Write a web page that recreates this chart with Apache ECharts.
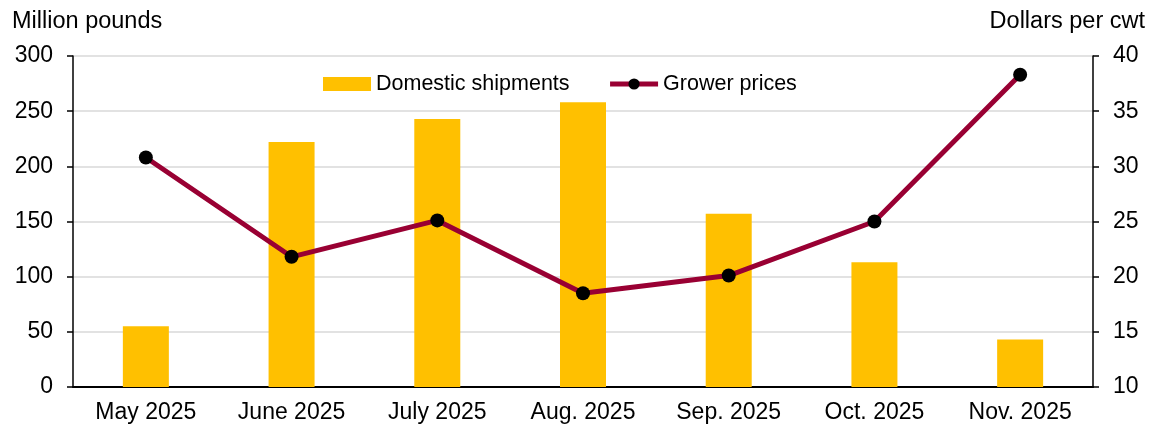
<!DOCTYPE html>
<html>
<head>
<meta charset="utf-8">
<title>Domestic shipments and grower prices</title>
<script src="https://cdn.jsdelivr.net/npm/echarts@6/dist/echarts.min.js"></script>
<style>
  html, body { margin: 0; padding: 0; background: #ffffff; }
  #chart { width: 1150px; height: 428px; }
</style>
</head>
<body>
<div id="chart"></div>
<script>
// Monthly categories
const months = ['May 2025', 'June 2025', 'July 2025', 'Aug. 2025', 'Sep. 2025', 'Oct. 2025', 'Nov. 2025'];
// Domestic shipments, million pounds (left axis)
const shipments = [55, 222, 243, 258, 157, 113, 43];
// Grower prices, dollars per cwt (right axis)
const growerPrices = [30.8, 21.8, 25.1, 18.5, 20.1, 25.0, 38.3];
// Axis titles
const leftTitle = 'Million pounds';
const rightTitle = 'Dollars per cwt';

const FONT = '"Liberation Sans", Arial, sans-serif';
const chart = echarts.init(document.getElementById('chart'), null, { renderer: 'canvas' });

const valueAxisBase = {
  type: 'value',
  axisLine: { show: true, lineStyle: { color: '#000', width: 1.5 } },
  axisTick: { show: true, inside: false, length: 6, lineStyle: { color: '#000', width: 1.5 } },
  axisLabel: { color: '#000', fontFamily: FONT, fontSize: 23, margin: 20 },
  splitLine: { show: false }
};

chart.setOption({
  animation: false,
  backgroundColor: '#ffffff',
  textStyle: { fontFamily: FONT },
  grid: { left: 73, right: 57, top: 56, bottom: 41, containLabel: false },
  graphic: [
    { type: 'text', left: 12, top: 10, style: { text: leftTitle, fill: '#000', font: '23.5px ' + FONT } },
    { type: 'text', right: 5, top: 10, style: { text: rightTitle, fill: '#000', font: '23.5px ' + FONT } }
  ],
  legend: {
    left: 318,
    top: 68,
    itemWidth: 48,
    itemHeight: 14,
    itemGap: 38,
    textStyle: { color: '#000', fontFamily: FONT, fontSize: 21.5 },
    lineStyle: { width: 5 },
    data: [
      { name: 'Domestic shipments', icon: 'rect' },
      { name: 'Grower prices' }
    ]
  },
  xAxis: {
    type: 'category',
    data: months,
    axisLine: { show: true, lineStyle: { color: '#000', width: 2 } },
    axisTick: { show: false },
    axisLabel: { color: '#000', fontFamily: FONT, fontSize: 23, margin: 14 }
  },
  yAxis: [
    Object.assign({}, valueAxisBase, {
      min: 0, max: 300, interval: 50,
      splitLine: { show: true, lineStyle: { color: '#d9d9d9', width: 1.5 } }
    }),
    Object.assign({}, valueAxisBase, {
      min: 10, max: 40, interval: 5,
      position: 'right'
    })
  ],
  series: [
    {
      name: 'Domestic shipments',
      type: 'bar',
      yAxisIndex: 0,
      data: shipments,
      barWidth: 46,
      itemStyle: { color: '#FFC000' }
    },
    {
      name: 'Grower prices',
      type: 'line',
      yAxisIndex: 1,
      data: growerPrices,
      symbol: 'circle',
      symbolSize: 14,
      lineStyle: { color: '#990033', width: 5 },
      itemStyle: { color: '#000', borderWidth: 0 },
      z: 3
    }
  ]
});
</script>
</body>
</html>
